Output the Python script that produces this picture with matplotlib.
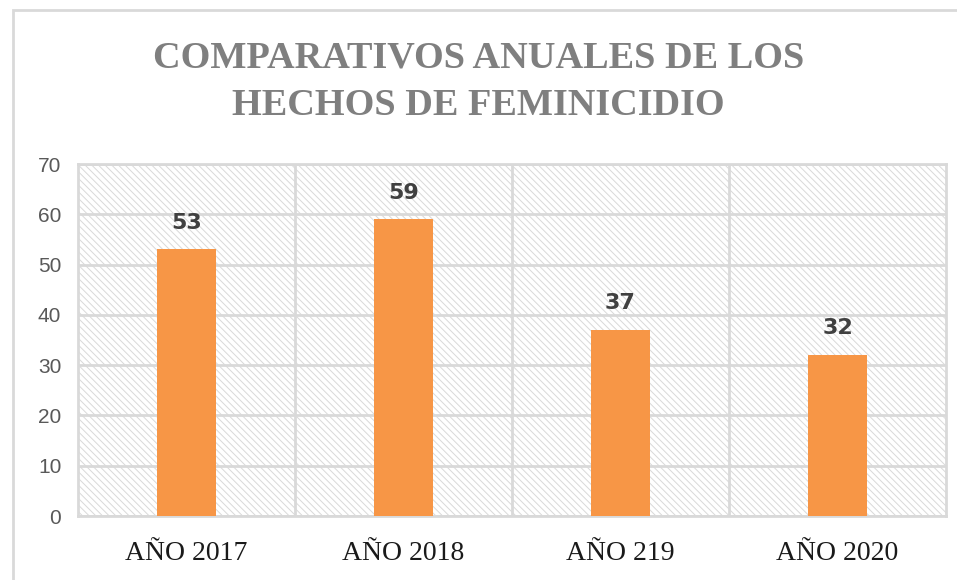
import matplotlib.pyplot as plt
from matplotlib.patches import Rectangle

# datos del gráfico
categorias = ['AÑO 2017', 'AÑO 2018', 'AÑO 219', 'AÑO 2020']
hechos = [53, 59, 37, 32]
yticks = [0, 10, 20, 30, 40, 50, 60, 70]

W, H = 957, 580
fig = plt.figure(figsize=(W / 100, H / 100), dpi=100)

# marco exterior (solo se ve arriba y a la izquierda)
fig.patches.append(Rectangle((13 / W, -0.1), 1.2, (H - 10) / H + 0.1,
                             transform=fig.transFigure, fill=False,
                             edgecolor='#d9d9d9', linewidth=2))

ax = fig.add_axes([78 / W, (H - 516) / H, 868 / W, 352 / H])

# fondo con trama diagonal
plt.rcParams['hatch.color'] = '#d9d9d9'
plt.rcParams['hatch.linewidth'] = 0.7
ax.add_patch(Rectangle((0, 0), 1, 1, transform=ax.transAxes, facecolor='white',
                       edgecolor='#d9d9d9', hatch='\\\\\\\\\\', linewidth=0, zorder=0))

x = range(len(categorias))
ax.bar(x, hechos, width=0.27, color='#f79646', zorder=3)

for xi, v in zip(x, hechos):
    ax.text(xi, v + 3.3, str(v), ha='center', va='bottom', fontsize=16,
            fontweight='bold', color='#404040', family='DejaVu Sans')

ax.set_xlim(-0.5, len(categorias) - 0.5)
ax.set_ylim(0, 70)
ax.set_yticks(yticks)
ax.set_yticklabels([str(t) for t in yticks], fontsize=15, color='#595959',
                   family='Liberation Sans')
ax.set_xticks(list(x))
ax.set_xticklabels(categorias, fontsize=20, color='#1a1a1a', family='Liberation Serif')
ax.tick_params(length=0, pad=12)
ax.tick_params(axis='x', pad=18)

# rejilla
for t in yticks:
    ax.axhline(t, color='#d9d9d9', linewidth=2, zorder=1)
for b in [0.5, 1.5, 2.5]:
    ax.axvline(b, color='#d9d9d9', linewidth=2, zorder=1)
for s in ax.spines.values():
    s.set_color('#d9d9d9')
    s.set_linewidth(2)

fig.text(0.5, 1 - 82 / H, 'COMPARATIVOS ANUALES DE LOS\nHECHOS DE FEMINICIDIO',
         ha='center', va='center', fontsize=27.5, fontweight='bold',
         color='#7f7f7f', family='Liberation Serif', linespacing=1.45)

fig.savefig('out.png', dpi=100)
